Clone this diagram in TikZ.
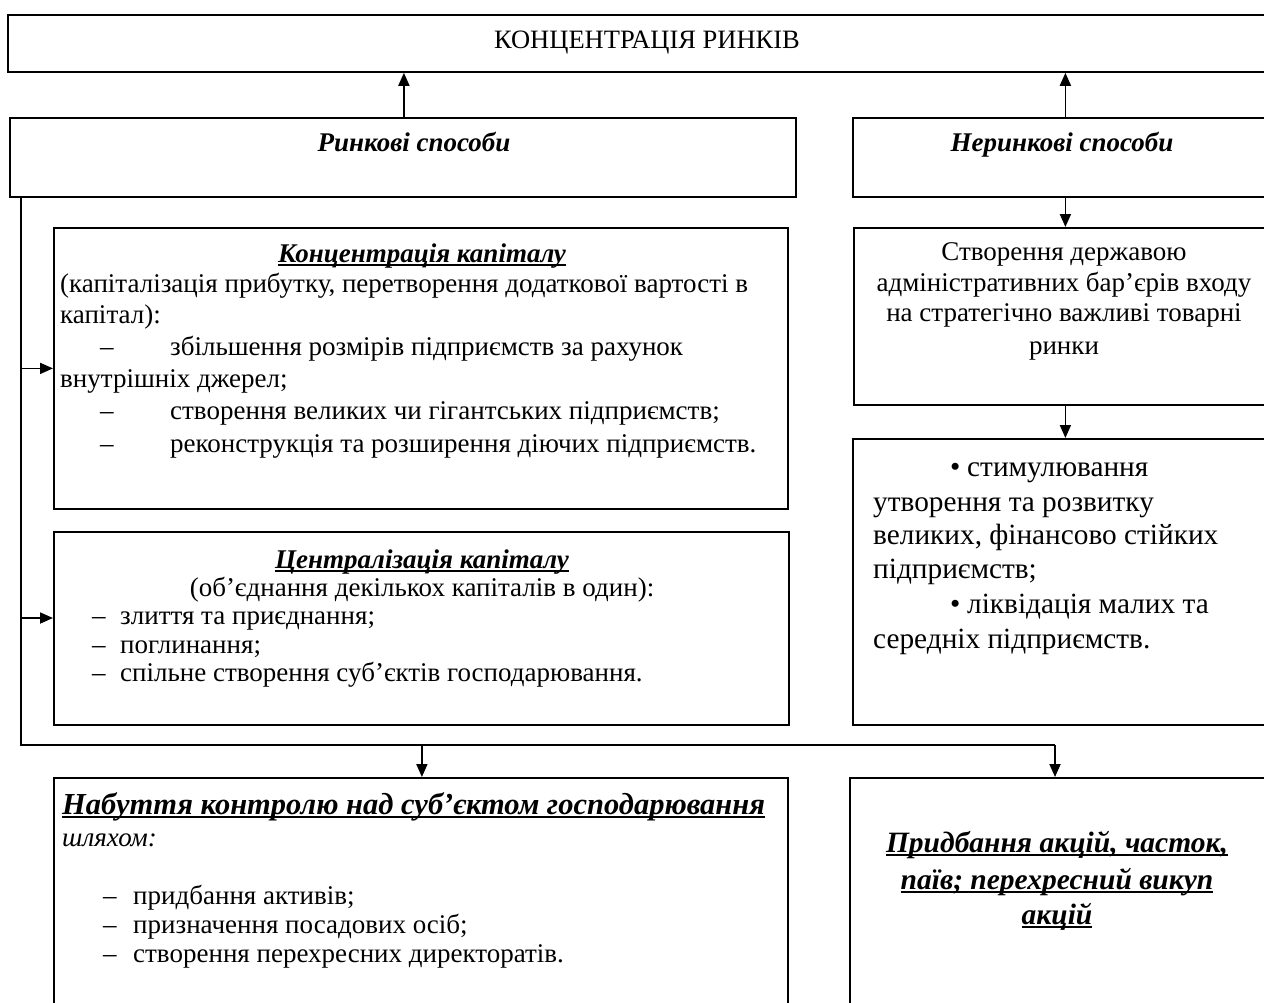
\documentclass[tikz,border=0pt]{standalone}
\usepackage{fontspec}
\setmainfont{Liberation Serif}
\usetikzlibrary{arrows.meta}
\newcommand\myul[1]{\leavevmode\setbox0=\hbox{#1}\rlap{\rule[-3.5pt]{\wd0}{1.7pt}}\box0}
\begin{document}
\begin{tikzpicture}[x=1pt,y=-1pt,
  box/.style={draw, line width=1.8pt, inner sep=0pt, anchor=north west},
  t/.style={inner sep=0pt, font=\fontsize{27}{32}\selectfont, text height=19pt, text depth=7pt},
  tb/.style={inner sep=0pt, font=\fontsize{29.3}{34}\selectfont, text height=21pt, text depth=8pt},
  hd/.style={t, font=\fontsize{27}{32}\selectfont\bfseries\itshape},
  hdl/.style={inner sep=0pt, text height=22pt, text depth=8pt, font=\fontsize{30.5}{36}\selectfont\bfseries\itshape},
  hdp/.style={hdl, font=\fontsize{29.5}{35}\selectfont\bfseries\itshape},
  ln/.style={line width=1.8pt},
  arr/.style={line width=1.8pt, -{Triangle[length=13pt,width=11pt]}}]
\clip (0,0) rectangle (1264,1002);
\fill[white] (0,0) rectangle (1264,1002);
% boxes
\node[box, minimum width=1270pt, minimum height=57pt] (top) at (7,14) {};
\node[box, minimum width=786pt, minimum height=79pt] (rin) at (9,117) {};
\node[box, minimum width=425pt, minimum height=79pt] (nerin) at (852,117) {};
\node[box, minimum width=734pt, minimum height=281pt] (konc) at (53,227) {};
\node[box, minimum width=735pt, minimum height=193pt] (centr) at (53,531) {};
\node[box, minimum width=424pt, minimum height=177pt] (stvor) at (853,227) {};
\node[box, minimum width=425pt, minimum height=286pt] (bul) at (852,438) {};
\node[box, minimum width=734pt, minimum height=240pt] (nab) at (53,777) {};
\node[box, minimum width=428pt, minimum height=240pt] (pryd) at (849,777) {};
% texts
\node[t, font=\fontsize{26.5}{32}\selectfont] (toptxt) at (647,42) {КОНЦЕНТРАЦІЯ РИНКІВ};
\node[hd] (rintxt) at (414,145) {Ринкові способи};
\node[hd] (nerintxt) at (1062,145) {Неринкові способи};
% konc
\node[hd] (k1) at (422,256) {\myul{Концентрація капіталу}};
\node[t, anchor=west] (k2) at (60,286) {(капіталізація прибутку, перетворення додаткової вартості в};
\node[t, anchor=west] (k3) at (60,317) {капітал):};
\node[t, anchor=west] (k4a) at (100,349) {–};
\node[t, anchor=west] (k4b) at (170,349) {збільшення розмірів підприємств за рахунок};
\node[t, anchor=west] (k5) at (60,381) {внутрішніх джерел;};
\node[t, anchor=west] (k6a) at (100,413) {–};
\node[t, anchor=west] (k6b) at (170,413) {створення великих чи гігантських підприємств;};
\node[t, anchor=west] (k7a) at (100,446) {–};
\node[t, anchor=west] (k7b) at (170,446) {реконструкція та розширення діючих підприємств.};
% centr
\node[hd] (c1) at (422,562) {\myul{Централізація капіталу}};
\node[t] (c2) at (422,590) {(об’єднання декількох капіталів в один):};
\node[t, anchor=west] (c3a) at (92,618) {–};
\node[t, anchor=west] (c3b) at (120,618) {злиття та приєднання;};
\node[t, anchor=west] (c4a) at (92,647) {–};
\node[t, anchor=west] (c4b) at (120,647) {поглинання;};
\node[t, anchor=west] (c5a) at (92,675) {–};
\node[t, anchor=west] (c5b) at (120,675) {спільне створення суб’єктів господарювання.};
% stvor
\node[t] (s1) at (1064,254) {Створення державою};
\node[t] (s2) at (1064,285) {адміністративних бар’єрів входу};
\node[t] (s3) at (1064,315) {на стратегічно важливі товарні};
\node[t] (s4) at (1064,348) {ринки};
% bullets
\node[tb, anchor=west] (b1a) at (950,470) {•};
\node[tb, anchor=west] (b1b) at (967,470) {стимулювання};
\node[tb, anchor=west] (b2) at (873,505) {утворення та розвитку};
\node[tb, anchor=west] (b3) at (873,538) {великих, фінансово стійких};
\node[tb, anchor=west] (b4) at (873,572) {підприємств;};
\node[tb, anchor=west] (b5a) at (950,607) {•};
\node[tb, anchor=west] (b5b) at (967,607) {ліквідація малих та};
\node[tb, anchor=west] (b6) at (873,642) {середніх підприємств.};
% nab
\node[hdl, anchor=west] (n1) at (62,807) {\myul{Набуття контролю над суб’єктом господарювання}};
\node[t, anchor=west, font=\fontsize{27}{32}\selectfont\itshape] (n2) at (62,840) {шляхом:};
\node[t, anchor=west] (n3a) at (103,898) {–};
\node[t, anchor=west] (n3b) at (133,898) {придбання активів;};
\node[t, anchor=west] (n4a) at (103,927) {–};
\node[t, anchor=west] (n4b) at (133,927) {призначення посадових осіб;};
\node[t, anchor=west] (n5a) at (103,956) {–};
\node[t, anchor=west] (n5b) at (133,956) {створення перехресних директоратів.};
% pryd
\node[hdp] (p1) at (1057,845) {\myul{Придбання акцій, часток,}};
\node[hdp] (p2) at (1057,882) {\myul{паїв; перехресний викуп}};
\node[hdp] (p3) at (1057,917) {\myul{акцій}};
% connectors
\draw[arr] ([xshift=1pt]rin.north) -- ([xshift=1pt]rin.north |- top.south);
\draw[arr] (nerin.north) -- (nerin.north |- top.south);
\draw[arr] (nerin.south) -- (nerin.south |- stvor.north);
\draw[arr] (nerin.south |- stvor.south) -- (nerin.south |- bul.north);
\coordinate (trTop) at (21,196);
\coordinate (trBot) at (21,745);
\coordinate (busR) at (1055,745);
\draw[ln] (trTop) -- (trBot) -- (busR);
\draw[arr] (trTop |- konc.west) -- (konc.west);
\draw[arr] (trTop |- 0,618) -- (centr.west |- 0,618);
\draw[arr] ([xshift=1pt]nab.north |- trBot) -- ([xshift=1pt]nab.north);
\draw[arr] (busR) -- (busR |- pryd.north);
\end{tikzpicture}
\end{document}
